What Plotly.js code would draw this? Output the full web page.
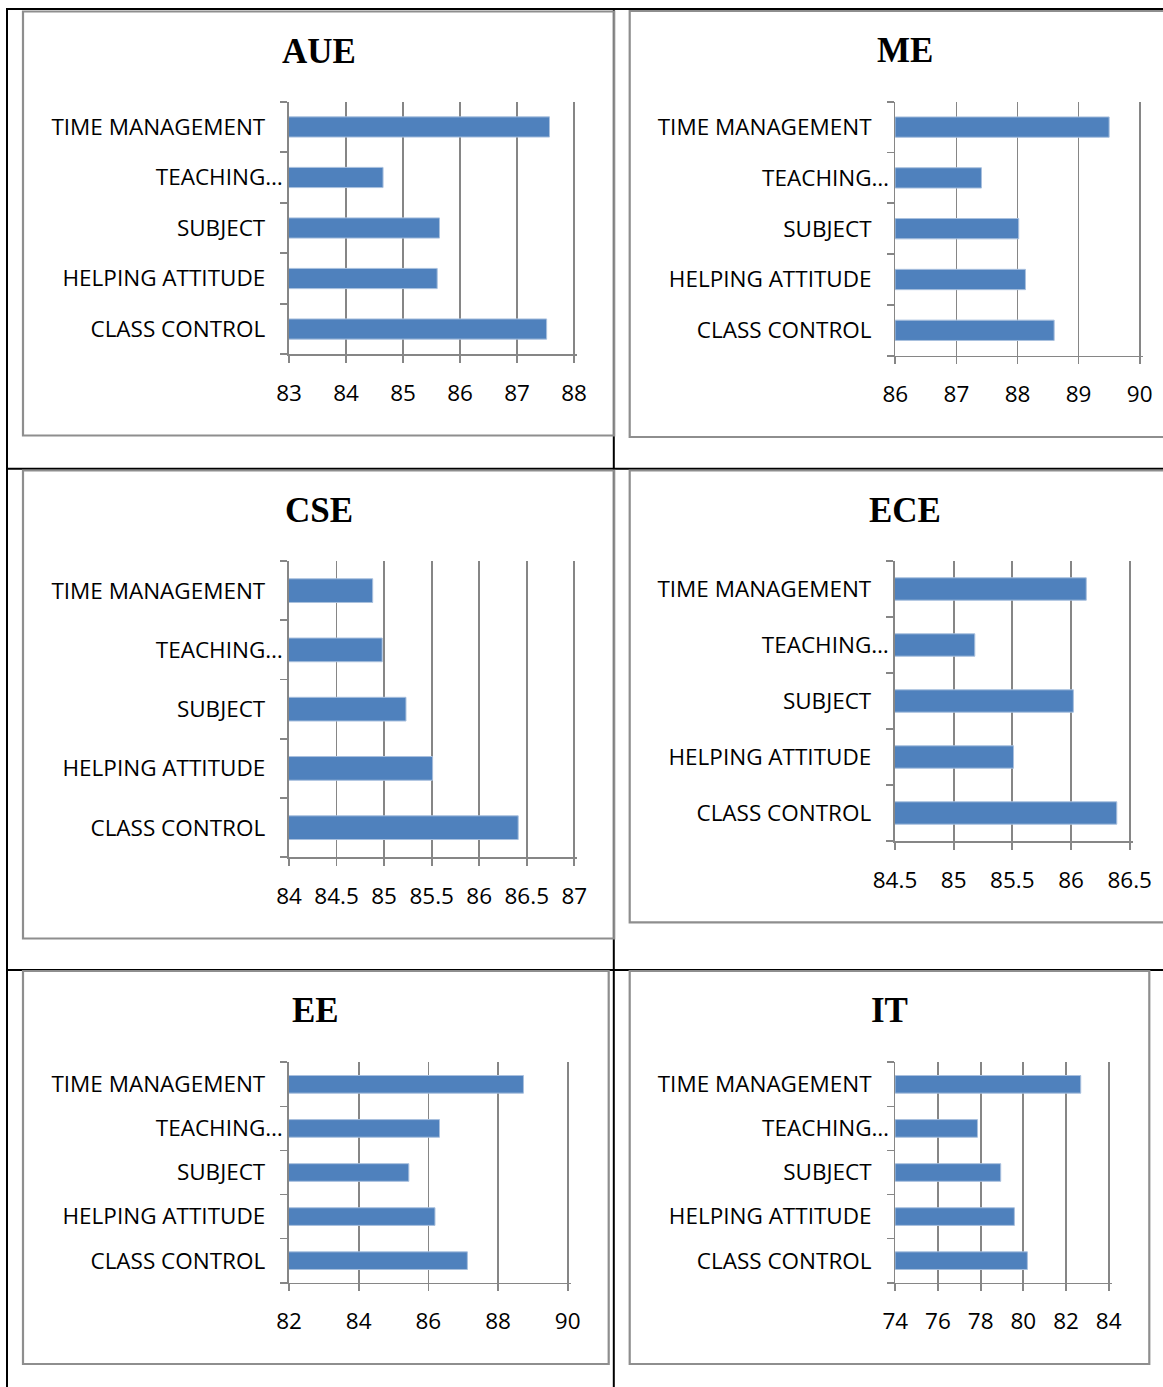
<!DOCTYPE html>
<html>
<head>
<meta charset="utf-8">
<script src="https://cdn.plot.ly/plotly-3.0.1.min.js"></script>
<style>
  html, body { margin: 0; padding: 0; background: #fff; }
  #chart { width: 1163px; height: 1387px; }
</style>
</head>
<body>
<div id="chart"></div>
<script>
// Faculty feedback scores per department, one horizontal bar chart each.
// Categories are listed bottom-to-top as they appear on the category axis.
const categories = ['CLASS CONTROL', 'HELPING ATTITUDE', 'SUBJECT', 'TEACHING\u2026', 'TIME MANAGEMENT'];

const departments = ['AUE', 'ME', 'CSE', 'ECE', 'EE', 'IT'];

const aueValues = [87.52, 85.60, 85.64, 84.65, 87.57];
const meValues  = [88.60, 88.13, 88.02, 87.41, 89.50];
const cseValues = [86.41, 85.51, 85.23, 84.98, 84.88];
const eceValues = [86.39, 85.51, 86.02, 85.18, 86.13];
const eeValues  = [87.12, 86.19, 85.44, 86.32, 88.73];
const itValues  = [80.19, 79.58, 78.94, 77.85, 82.69];

const aueTicks = [83, 84, 85, 86, 87, 88];
const meTicks  = [86, 87, 88, 89, 90];
const cseTicks = [84, 84.5, 85, 85.5, 86, 86.5, 87];
const eceTicks = [84.5, 85, 85.5, 86, 86.5];
const eeTicks  = [82, 84, 86, 88, 90];
const itTicks  = [74, 76, 78, 80, 82, 84];

const valueSets = [aueValues, meValues, cseValues, eceValues, eeValues, itValues];
const tickSets  = [aueTicks, meTicks, cseTicks, eceTicks, eeTicks, itTicks];

// ---- page geometry (pixels) ----
const W = 1163, H = 1387;
const fx = p => p / W;
const fy = p => 1 - p / H;

// chart frame [left, top, right, bottom] and plot area [left, top, right, bottom]
const frames = [
  { box: [23, 11.5, 614.2, 435.5],   plot: [289, 101.7, 574, 354.3] },
  { box: [629.7, 11, 1181, 437],     plot: [895.3, 101.7, 1139.7, 355.7] },
  { box: [23, 470.5, 614.2, 938.5],  plot: [289, 561, 574.3, 857.3] },
  { box: [629.7, 470.5, 1181, 922.3],plot: [895, 561, 1129.7, 841] },
  { box: [23, 971, 608.7, 1364],     plot: [289, 1062.3, 567.7, 1282.7] },
  { box: [629.7, 971, 1149.3, 1364], plot: [895.3, 1062.3, 1108.7, 1282.7] }
];

const GRID = '#868686';
const BAR = '#4F81BD';
const labelFont = { family: 'Open Sans, Liberation Sans, sans-serif', size: 22.5, color: '#000' };
const titleFont = { family: 'Liberation Serif, Times New Roman, serif', size: 35, color: '#000' };

// the truncated label sits closer to the axis; pad the others on the right
const tickText = categories.map(c => c.endsWith('\u2026') ? c : c + '\u00a0\u00a0\u00a0');

const data = [];
const layout = {
  width: W,
  height: H,
  margin: { l: 0, r: 0, t: 0, b: 0, pad: 0 },
  paper_bgcolor: '#fff',
  plot_bgcolor: 'rgba(0,0,0,0)',
  showlegend: false,
  bargap: 0.6,
  shapes: [],
  annotations: []
};

// table rules
const rule = (x0, y0, x1, y1) => ({
  type: 'line', xref: 'paper', yref: 'paper',
  x0: fx(x0), y0: fy(y0), x1: fx(x1), y1: fy(y1),
  line: { color: '#000', width: 2 }
});
layout.shapes.push(rule(6, 9, 1170, 9));
layout.shapes.push(rule(6, 468.7, 1170, 468.7));
layout.shapes.push(rule(6, 970, 1170, 970));
layout.shapes.push(rule(7, 8, 7, 1395));
layout.shapes.push(rule(613.8, 8, 613.8, 1395));

// extra pixels past the last tick so its grid line is not dropped at the edge
const EDGE = 3;

departments.forEach((name, i) => {
  const n = i === 0 ? '' : String(i + 1);
  const fr = frames[i];
  const ticks = tickSets[i];
  const lo = ticks[0], hi = ticks[ticks.length - 1];
  const plotW = fr.plot[2] - fr.plot[0];
  const pad = (hi - lo) * EDGE / plotW;

  data.push({
    type: 'bar',
    orientation: 'h',
    y: categories,
    x: valueSets[i],
    xaxis: 'x' + n,
    yaxis: 'y' + n,
    marker: { color: BAR, line: { color: '#a9c0de', width: 1 } },
    hoverinfo: 'x'
  });

  layout['xaxis' + n] = {
    domain: [fx(fr.plot[0]), fx(fr.plot[2] + EDGE)],
    anchor: 'y' + n,
    range: [lo, hi + pad],
    tickmode: 'array',
    tickvals: ticks,
    showgrid: true, gridcolor: GRID, gridwidth: 1.7,
    showline: true, linecolor: GRID, linewidth: 1.7,
    ticks: 'outside', ticklen: 7, tickwidth: 1.7, tickcolor: GRID,
    zeroline: false,
    tickfont: labelFont,
    ticklabelstandoff: 11,
    fixedrange: true
  };

  layout['yaxis' + n] = {
    domain: [fy(fr.plot[3]), fy(fr.plot[1])],
    anchor: 'x' + n,
    type: 'category',
    categoryorder: 'array',
    categoryarray: categories,
    range: [-0.5, categories.length - 0.5],
    tickmode: 'array',
    tickvals: categories,
    ticktext: tickText,
    tickson: 'boundaries',
    ticks: 'outside', ticklen: 7, tickwidth: 1.7, tickcolor: GRID,
    showline: true, linecolor: GRID, linewidth: 1.7,
    showgrid: false, zeroline: false,
    tickfont: labelFont,
    fixedrange: true
  };

  // chart frame
  layout.shapes.push({
    type: 'rect', xref: 'paper', yref: 'paper',
    x0: fx(fr.box[0]), y0: fy(fr.box[3]), x1: fx(fr.box[2]), y1: fy(fr.box[1]),
    line: { color: '#8e8e8e', width: 2.2 },
    fillcolor: 'rgba(0,0,0,0)'
  });

  // chart title
  layout.annotations.push({
    xref: 'paper', yref: 'paper',
    x: fx((fr.box[0] + fr.box[2]) / 2),
    y: fy(fr.box[1] + 39.5),
    xanchor: 'center', yanchor: 'middle',
    text: '<b>' + name + '</b>',
    showarrow: false,
    font: titleFont
  });
});

Plotly.newPlot('chart', data, layout, { staticPlot: true, displayModeBar: false });
</script>
</body>
</html>
